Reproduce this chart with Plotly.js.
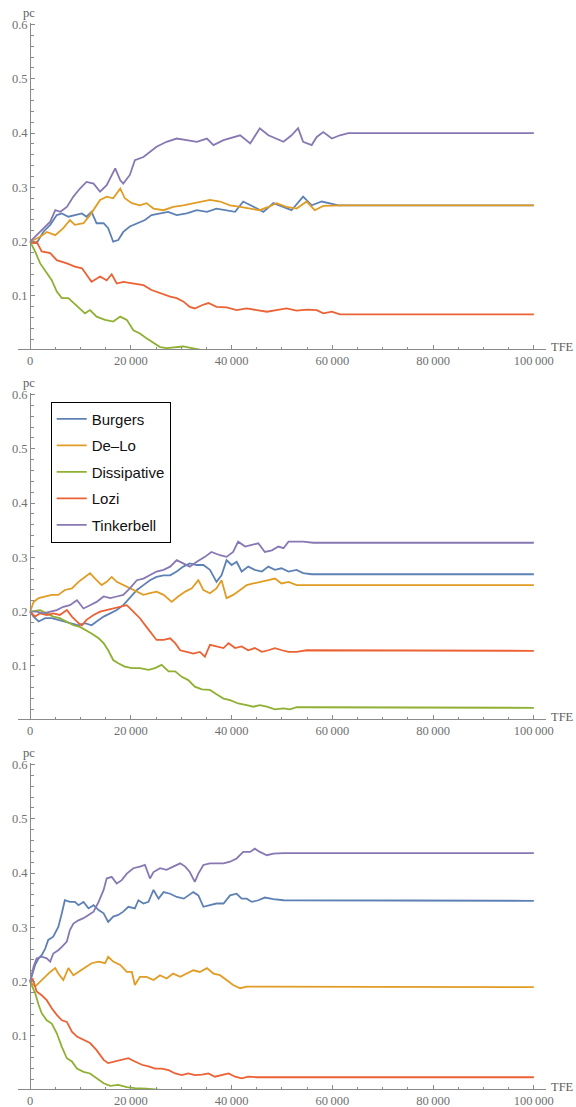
<!DOCTYPE html>
<html>
<head>
<meta charset="utf-8">
<script src="https://cdn.plot.ly/plotly-3.0.1.min.js"></script>
<style>html,body{margin:0;padding:0;background:#fff;}#chart{width:576px;height:1107px;}</style>
</head>
<body>
<div id="chart"></div>
<script>
// ---------- data ----------
const seriesNames = ['Burgers', 'De\u2013Lo', 'Dissipative', 'Lozi', 'Tinkerbell'];
const xTickVals = [0, 20000, 40000, 60000, 80000, 100000];
const xTickText = ['0', '20\u2009000', '40\u2009000', '60\u2009000', '80\u2009000', '100\u2009000'];
const yTickVals = [0.1, 0.2, 0.3, 0.4, 0.5, 0.6];
const yTickText = ['0.1', '0.2', '0.3', '0.4', '0.5', '0.6'];

// Panel 1
const p1BurgersX = [0,1300,2600,4000,5300,6300,7600,8900,10300,11200,12200,13200,14600,15500,16500,17500,18500,19800,21200,22800,24100,25800,27400,29100,31100,33100,35100,37000,39000,40700,42300,44300,46300,48300,50300,51900,54200,55900,57900,59500,61200,100000];
const p1BurgersY = [0.2,0.197,0.218,0.231,0.249,0.252,0.246,0.249,0.252,0.246,0.255,0.234,0.234,0.225,0.2,0.203,0.218,0.228,0.234,0.24,0.249,0.252,0.255,0.249,0.252,0.258,0.255,0.261,0.258,0.255,0.274,0.264,0.255,0.271,0.264,0.258,0.283,0.267,0.274,0.271,0.267,0.267];
const p1DeLoX = [0,2000,3300,5000,6600,7900,8900,10600,11900,12900,13900,15200,16500,17900,18800,20200,21800,23100,24500,26500,28400,30400,32400,34400,35700,37700,39700,41700,43700,45600,47300,48900,50900,52900,54900,56500,58200,60200,62200,100000];
const p1DeLoY = [0.2,0.209,0.218,0.212,0.225,0.24,0.231,0.234,0.249,0.264,0.277,0.283,0.28,0.298,0.28,0.271,0.267,0.271,0.261,0.258,0.264,0.267,0.271,0.274,0.277,0.274,0.267,0.264,0.261,0.258,0.264,0.271,0.264,0.261,0.274,0.258,0.266,0.267,0.267,0.267];
const p1DissX = [0,1000,2000,3300,4300,5300,6300,7600,8600,9900,10900,11900,13200,14900,16500,17900,19200,20500,21800,23100,24500,25800,27100,29100,30400,32100,33700,35100,100000];
const p1DissY = [0.2,0.182,0.16,0.142,0.129,0.108,0.096,0.096,0.087,0.077,0.068,0.074,0.062,0.056,0.053,0.062,0.056,0.037,0.031,0.022,0.013,0.006,0.004,0.006,0.007,0.004,0.001,0,0];
const p1LoziX = [0,700,1300,2300,4000,5300,7300,8900,10300,11200,12200,13900,15200,16200,17200,18500,20500,22500,24100,25800,27800,29100,30400,31700,32700,34100,35400,37000,39000,41000,43000,45000,47000,48900,50900,52900,54900,56900,58200,59900,61500,100000];
const p1LoziY = [0.2,0.197,0.2,0.182,0.179,0.166,0.16,0.154,0.151,0.139,0.126,0.136,0.129,0.14,0.123,0.126,0.123,0.12,0.111,0.105,0.099,0.096,0.09,0.08,0.077,0.083,0.087,0.08,0.079,0.074,0.077,0.074,0.071,0.074,0.077,0.073,0.075,0.074,0.068,0.071,0.066,0.066];
const p1TinkX = [0,2000,4000,5000,6000,7300,8600,9900,11200,12600,13900,15200,16900,17900,18500,19800,20800,22500,23800,25100,27100,29100,31100,33100,35100,36400,38400,40300,41700,43700,45600,47300,48900,50300,51900,53200,54200,55900,56900,58200,59900,61500,63200,100000];
const p1TinkY = [0.2,0.218,0.237,0.258,0.255,0.264,0.283,0.298,0.31,0.307,0.292,0.304,0.335,0.313,0.307,0.323,0.35,0.356,0.366,0.375,0.384,0.39,0.387,0.384,0.39,0.378,0.387,0.393,0.396,0.381,0.409,0.396,0.39,0.384,0.396,0.409,0.384,0.378,0.393,0.402,0.39,0.396,0.4,0.4];

// Panel 2
const p2BurgersX = [0,700,1700,3000,4300,5600,6900,8300,9600,10900,12200,13200,14600,15900,17200,18500,19800,21200,22500,23800,25100,26500,27800,29100,30400,31700,33100,34400,35700,37000,38000,39000,40000,41000,42000,43300,44600,46000,47300,48600,49900,51300,52900,54200,55900,100000];
const p2BurgersY = [0.2,0.191,0.182,0.188,0.188,0.185,0.182,0.179,0.175,0.179,0.175,0.182,0.191,0.197,0.203,0.212,0.225,0.24,0.249,0.258,0.264,0.267,0.267,0.274,0.283,0.289,0.286,0.286,0.277,0.255,0.267,0.295,0.286,0.292,0.274,0.283,0.277,0.274,0.283,0.277,0.28,0.274,0.277,0.271,0.269,0.269];
const p2DeLoX = [0,700,1700,3000,4300,5600,6900,8300,9600,10900,11900,12900,14200,15200,16200,17200,18500,19800,21200,22500,23800,25100,26500,28100,29400,30800,32100,33400,34400,35700,37000,38000,39000,40300,41700,43000,44300,46000,47300,48600,49900,51300,52900,54900,100000];
const p2DeLoY = [0.2,0.218,0.225,0.228,0.231,0.231,0.24,0.243,0.255,0.264,0.271,0.261,0.249,0.255,0.264,0.255,0.249,0.243,0.237,0.231,0.234,0.237,0.231,0.218,0.228,0.237,0.243,0.258,0.24,0.234,0.243,0.258,0.225,0.231,0.24,0.249,0.252,0.255,0.258,0.261,0.252,0.255,0.249,0.249,0.249];
const p2DissX = [0,2000,3300,4600,5900,7300,8600,9900,11200,12200,13600,14600,15500,16500,17500,18800,20200,21800,23500,24800,26100,27500,28800,30100,31400,32700,34100,35700,37000,38400,39700,41300,43000,44300,45600,47000,48600,50300,51600,52900,54900,100000];
const p2DissY = [0.2,0.203,0.197,0.191,0.188,0.182,0.175,0.172,0.166,0.16,0.151,0.142,0.129,0.111,0.105,0.099,0.096,0.096,0.093,0.096,0.102,0.09,0.09,0.08,0.074,0.062,0.057,0.056,0.048,0.04,0.037,0.031,0.028,0.025,0.028,0.025,0.02,0.022,0.02,0.024,0.024,0.023];
const p2LoziX = [0,1000,2000,3300,4600,5900,7300,8300,9600,10300,11200,12600,13900,15200,16500,17900,19200,20500,21800,23100,24100,25100,26500,27800,28800,29800,31100,32400,33700,34700,35700,37000,38400,39400,40700,42000,43300,44600,46000,47300,48600,50000,51300,52900,54900,100000];
const p2LoziY = [0.2,0.191,0.197,0.194,0.197,0.194,0.203,0.191,0.179,0.175,0.185,0.194,0.2,0.203,0.206,0.209,0.212,0.2,0.188,0.172,0.16,0.148,0.148,0.151,0.142,0.129,0.126,0.123,0.126,0.117,0.139,0.136,0.133,0.142,0.133,0.136,0.129,0.133,0.126,0.129,0.133,0.129,0.126,0.126,0.129,0.128];
const p2TinkX = [0,1300,2600,4000,5300,6600,7900,9300,10600,11900,13200,14600,15900,17200,18500,19800,21200,22500,23800,25100,26500,27800,29100,30400,31700,33100,34700,36000,37700,39000,40300,41300,42700,44000,45300,46600,48000,49300,50300,51300,52600,54200,56200,100000];
const p2TinkY = [0.2,0.2,0.197,0.2,0.203,0.209,0.212,0.221,0.206,0.212,0.218,0.228,0.225,0.228,0.231,0.243,0.258,0.261,0.267,0.274,0.277,0.283,0.295,0.289,0.283,0.292,0.301,0.31,0.304,0.301,0.31,0.329,0.32,0.323,0.326,0.31,0.313,0.32,0.317,0.329,0.329,0.329,0.327,0.327];

// Panel 3
const p3BurgersX = [0,1000,1700,2300,3000,3600,4600,5600,6300,6900,7900,8900,9600,10600,11600,12600,13600,14600,15500,16500,17500,18500,19500,20800,21500,22500,23500,24500,25500,26500,27800,29100,30500,31400,32400,33400,34400,35700,37000,38400,39700,41000,42000,43000,44000,45300,46600,48300,50300,100000];
const p3BurgersY = [0.2,0.231,0.243,0.249,0.261,0.277,0.283,0.301,0.326,0.35,0.347,0.347,0.341,0.347,0.335,0.341,0.332,0.326,0.31,0.32,0.323,0.329,0.338,0.335,0.35,0.344,0.347,0.369,0.353,0.365,0.362,0.356,0.353,0.359,0.365,0.359,0.338,0.341,0.344,0.344,0.359,0.362,0.353,0.353,0.347,0.35,0.355,0.352,0.35,0.349];
const p3DeLoX = [0,1000,2000,3000,4000,5000,5600,6600,7600,8600,9600,10900,12200,13600,14900,15500,16500,17900,19200,20200,20800,21800,23100,24500,25800,27100,28400,29800,31100,32400,33700,35100,36400,37700,39000,40300,41700,43000,44300,45600,47300,100000];
const p3DeLoY = [0.2,0.191,0.2,0.209,0.218,0.225,0.215,0.203,0.225,0.212,0.218,0.225,0.234,0.237,0.234,0.246,0.237,0.231,0.218,0.218,0.194,0.209,0.209,0.203,0.212,0.206,0.215,0.209,0.215,0.221,0.218,0.225,0.215,0.212,0.203,0.194,0.188,0.191,0.191,0.191,0.191,0.19];
const p3DissX = [0,1000,1700,2300,3300,4300,5300,6300,7300,8300,9300,10600,11900,13200,14600,15900,17500,19200,20800,23100,25800,27100,100000];
const p3DissY = [0.2,0.179,0.157,0.142,0.129,0.123,0.105,0.08,0.059,0.053,0.04,0.034,0.031,0.022,0.013,0.008,0.01,0.006,0.004,0.003,0.001,0,0];
const p3LoziX = [0,500,1300,2300,3300,4300,5300,6300,7300,8300,9300,10600,11900,13200,14600,15500,16900,18200,19500,20800,22200,23500,24800,26100,27500,28800,30100,31400,32700,34100,35400,36700,38000,39400,40700,42000,43300,45000,100000];
const p3LoziY = [0.2,0.206,0.182,0.175,0.166,0.151,0.139,0.129,0.126,0.108,0.099,0.093,0.087,0.074,0.056,0.05,0.053,0.056,0.059,0.053,0.047,0.044,0.04,0.04,0.037,0.031,0.028,0.031,0.028,0.029,0.031,0.025,0.028,0.031,0.025,0.022,0.025,0.024,0.024];
const p3TinkX = [0,700,1300,2300,3300,4000,4600,5600,6300,7300,7900,8600,9600,10600,11600,12600,13600,14600,15200,16200,17200,18200,19200,20500,21800,22800,23800,24500,25800,27100,28400,29800,30800,31700,32700,33400,34400,35700,37000,38400,39700,41000,42300,43700,44600,45600,47000,48300,50300,100000];
const p3TinkY = [0.2,0.228,0.243,0.246,0.243,0.237,0.252,0.258,0.264,0.274,0.295,0.307,0.313,0.317,0.323,0.329,0.347,0.369,0.39,0.393,0.381,0.387,0.399,0.409,0.412,0.415,0.39,0.402,0.409,0.406,0.412,0.418,0.412,0.402,0.384,0.399,0.415,0.418,0.418,0.418,0.421,0.427,0.439,0.439,0.445,0.439,0.433,0.436,0.437,0.437];

// ---------- styling ----------
const colors = ['#5E81B5', '#E19C24', '#8FB032', '#EB6235', '#8778B3'];
const panels = [
  [[p1BurgersX, p1BurgersY], [p1DeLoX, p1DeLoY], [p1DissX, p1DissY], [p1LoziX, p1LoziY], [p1TinkX, p1TinkY]],
  [[p2BurgersX, p2BurgersY], [p2DeLoX, p2DeLoY], [p2DissX, p2DissY], [p2LoziX, p2LoziY], [p2TinkX, p2TinkY]],
  [[p3BurgersX, p3BurgersY], [p3DeLoX, p3DeLoY], [p3DissX, p3DissY], [p3LoziX, p3LoziY], [p3TinkX, p3TinkY]]
];

const H = 1107, W = 576;
const traces = [];
panels.forEach((series, p) => {
  series.forEach((s, i) => {
    traces.push({
      type: 'scatter', mode: 'lines',
      x: s[0], y: s[1],
      name: seriesNames[i],
      legendgroup: 'g' + i,
      showlegend: p === 1,
      line: {color: colors[i], width: 1.8},
      xaxis: p === 0 ? 'x' : 'x' + (p + 1),
      yaxis: p === 0 ? 'y' : 'y' + (p + 1),
      hoverinfo: 'skip'
    });
  });
});

const axisColor = '#8a8a8a';
const tickFont = {family: 'Liberation Serif, Times New Roman, serif', size: 12.5, color: '#707070'};
function xAx(p) {
  return {
    anchor: p === 0 ? 'y' : 'y' + (p + 1),
    domain: [18 / W, 545.7 / W],
    range: [-2400, 102350],
    showgrid: false, zeroline: false,
    showline: true, linecolor: axisColor, linewidth: 1,
    ticks: 'inside', ticklen: 4, tickwidth: 1, tickcolor: axisColor,
    tickmode: 'array', tickvals: xTickVals, ticktext: xTickText,
    tickfont: tickFont,
    minor: {tickmode: 'linear', tick0: 0, dtick: 5000, ticks: 'inside', ticklen: 2.5, tickcolor: axisColor, tickwidth: 1, showgrid: false},
    fixedrange: true
  };
}
function yAx(p) {
  const off = 370 * p;
  return {
    anchor: 'free',
    position: 30 / W,
    domain: [1 - (349.2 + off) / H, 1 - (22.9 + off) / H],
    range: [0.002, 0.603],
    showgrid: false, zeroline: false,
    showline: true, linecolor: axisColor, linewidth: 1,
    ticks: 'inside', ticklen: 4, tickwidth: 1, tickcolor: axisColor,
    tickmode: 'array', tickvals: yTickVals, ticktext: yTickText,
    tickfont: tickFont,
    minor: {tickmode: 'linear', tick0: 0, dtick: 0.02, ticks: 'inside', ticklen: 2.5, tickcolor: axisColor, tickwidth: 1, showgrid: false},
    fixedrange: true
  };
}

const labelFont = {family: 'Liberation Serif, Times New Roman, serif', size: 12.5, color: '#606060'};
const annotations = [];
[0, 1, 2].forEach(p => {
  const off = 370 * p;
  annotations.push({text: 'pc', xref: 'paper', yref: 'paper', x: 28.5 / W, y: 1 - (13 + off) / H,
    xanchor: 'center', yanchor: 'middle', showarrow: false, font: labelFont});
  annotations.push({text: 'TFE', xref: 'paper', yref: 'paper', x: 549 / W, y: 1 - (346.5 + off) / H,
    xanchor: 'left', yanchor: 'middle', showarrow: false, font: labelFont});
});

const layout = {
  width: W, height: H,
  margin: {l: 0, r: 0, t: 0, b: 0},
  paper_bgcolor: '#ffffff', plot_bgcolor: 'rgba(0,0,0,0)',
  showlegend: true,
  legend: {
    x: 50.7 / W, y: 1 - 401.7 / H, xanchor: 'left', yanchor: 'top',
    bgcolor: '#ffffff', bordercolor: '#000000', borderwidth: 1,
    font: {family: 'Liberation Sans, Arial, sans-serif', size: 15, color: '#111'},
    traceorder: 'grouped', tracegroupgap: 4
  },
  annotations: annotations,
  xaxis: xAx(0), yaxis: yAx(0),
  xaxis2: xAx(1), yaxis2: yAx(1),
  xaxis3: xAx(2), yaxis3: yAx(2)
};

Plotly.newPlot('chart', traces, layout, {staticPlot: true, displayModeBar: false});
</script>
</body>
</html>
